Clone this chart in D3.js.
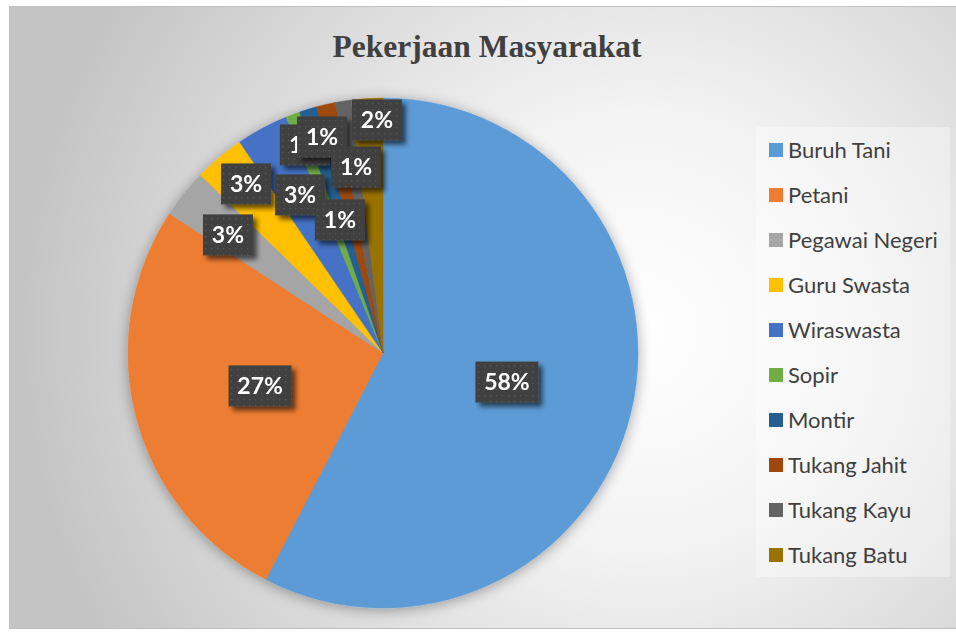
<!DOCTYPE html>
<html>
<head>
<meta charset="utf-8">
<script src="https://cdn.jsdelivr.net/npm/d3@7"></script>
<style>
  html, body { margin: 0; padding: 0; background: #ffffff; }
  svg { display: block; }
</style>
</head>
<body>
<svg id="chart" width="956" height="635"></svg>
<script>
// ---- data ----
const title = "Pekerjaan Masyarakat";
const categories = ["Buruh Tani", "Petani", "Pegawai Negeri", "Guru Swasta", "Wiraswasta",
                    "Sopir", "Montir", "Tukang Jahit", "Tukang Kayu", "Tukang Batu"];
const values = [57.6, 26.6, 3.1, 3.2, 3.3, 0.9, 1.1, 1.2, 1.0, 2.0];
const colors = ["#5b9bd5", "#ed7d31", "#a5a5a5", "#ffc000", "#4472c4",
                "#70ad47", "#255e91", "#9e480e", "#636363", "#997300"];
// label anchor positions relative to pie centre, in units of radius (layout only)
const labelAnchor = [[0.486, 0.114], [-0.482, 0.129], [-0.608, -0.463], [-0.537, -0.663],
                     [-0.325, -0.620], [-0.306, -0.816], [-0.239, -0.847], [-0.106, -0.729],
                     [-0.169, -0.522], [-0.024, -0.914]];

const W = 956, H = 635;
const svg = d3.select("#chart");
const defs = svg.append("defs");

// background gradient
const bg = defs.append("radialGradient").attr("id", "bgGrad")
  .attr("gradientUnits", "userSpaceOnUse")
  .attr("cx", 640).attr("cy", 330).attr("r", 620);
bg.append("stop").attr("offset", "0").attr("stop-color", "#ffffff");
bg.append("stop").attr("offset", "0.35").attr("stop-color", "#f3f3f3");
bg.append("stop").attr("offset", "1").attr("stop-color", "#c4c4c4");

// pie shadow
const ps = defs.append("filter").attr("id", "pieShadow")
  .attr("x", "-20%").attr("y", "-20%").attr("width", "140%").attr("height", "140%");
ps.append("feGaussianBlur").attr("in", "SourceAlpha").attr("stdDeviation", 7).attr("result", "b");
ps.append("feOffset").attr("in", "b").attr("dx", 0).attr("dy", 2).attr("result", "o");
ps.append("feComponentTransfer").attr("in", "o").attr("result", "s")
  .append("feFuncA").attr("type", "linear").attr("slope", 0.35);
const psm = ps.append("feMerge");
psm.append("feMergeNode").attr("in", "s");
psm.append("feMergeNode").attr("in", "SourceGraphic");

// label shadow
const ls = defs.append("filter").attr("id", "lblShadow")
  .attr("x", "-30%").attr("y", "-30%").attr("width", "170%").attr("height", "170%");
ls.append("feGaussianBlur").attr("in", "SourceAlpha").attr("stdDeviation", 2.5).attr("result", "b");
ls.append("feOffset").attr("in", "b").attr("dx", 4).attr("dy", 4).attr("result", "o");
ls.append("feComponentTransfer").attr("in", "o").attr("result", "s")
  .append("feFuncA").attr("type", "linear").attr("slope", 0.6);
const lsm = ls.append("feMerge");
lsm.append("feMergeNode").attr("in", "s");
lsm.append("feMergeNode").attr("in", "SourceGraphic");

// dotted pattern for labels
const pat = defs.append("pattern").attr("id", "dots")
  .attr("patternUnits", "userSpaceOnUse").attr("width", 6).attr("height", 6);
pat.append("rect").attr("width", 6).attr("height", 6).attr("fill", "#404040");
pat.append("rect").attr("x", 1).attr("y", 1).attr("width", 1.3).attr("height", 1.3).attr("fill", "#5a5a5a");

// chart area
svg.append("rect").attr("x", 9.5).attr("y", 6.5).attr("width", W - 9).attr("height", 622)
  .attr("fill", "url(#bgGrad)").attr("stroke", "#c0c0c0").attr("stroke-width", 1);

// title
svg.append("text").attr("x", 487).attr("y", 57)
  .attr("text-anchor", "middle")
  .attr("font-family", "'Liberation Serif', 'Times New Roman', serif")
  .attr("font-weight", "bold").attr("font-size", 31.5)
  .attr("fill", "#404040").text(title);

// pie
const cx = 383, cy = 353, R = 255;
const pie = d3.pie().sort(null).value(d => d);
const arcs = pie(values);
const arc = d3.arc().innerRadius(0).outerRadius(R);
const g = svg.append("g").attr("transform", `translate(${cx},${cy})`);
g.append("g").attr("filter", "url(#pieShadow)")
  .selectAll("path").data(arcs).join("path")
  .attr("d", arc)
  .attr("fill", (d, i) => colors[i])
  .attr("stroke", (d, i) => colors[i]).attr("stroke-width", 0.5);

// labels
const total = d3.sum(values);
const fmt = v => Math.round(v / total * 100) + "%";
const lbls = g.append("g").selectAll("g").data(arcs).join("g")
  .attr("transform", (d, i) => `translate(${labelAnchor[i][0] * R},${labelAnchor[i][1] * R})`)
  .attr("filter", "url(#lblShadow)");
lbls.each(function(d, i) {
  const s = d3.select(this);
  const txt = fmt(d.data);
  const w = txt.length > 2 ? 63 : 50;
  s.append("rect").attr("x", -w / 2).attr("y", -20.5).attr("width", w).attr("height", 41)
    .attr("fill", "url(#dots)");
  s.append("text").attr("x", 0).attr("y", 8)
    .attr("text-anchor", "middle")
    .attr("font-family", "Lato, 'Open Sans', sans-serif")
    .attr("font-weight", "bold").attr("font-size", 23)
    .attr("fill", "#ffffff").text(txt);
});

// legend
const lg = svg.append("g");
lg.append("rect").attr("x", 756).attr("y", 127).attr("width", 194).attr("height", 450)
  .attr("fill", "#ffffff").attr("fill-opacity", 0.35);
const items = lg.selectAll("g.item").data(categories).join("g").attr("class", "item")
  .attr("transform", (d, i) => `translate(769,${150 + i * 45})`);
items.append("rect").attr("x", 0).attr("y", -7).attr("width", 14).attr("height", 14)
  .attr("fill", (d, i) => colors[i]);
items.append("text").attr("x", 19).attr("y", 8)
  .attr("font-family", "Lato, 'Open Sans', sans-serif").attr("font-size", 22)
  .attr("fill", "#404040").text(d => d);
</script>
</body>
</html>
